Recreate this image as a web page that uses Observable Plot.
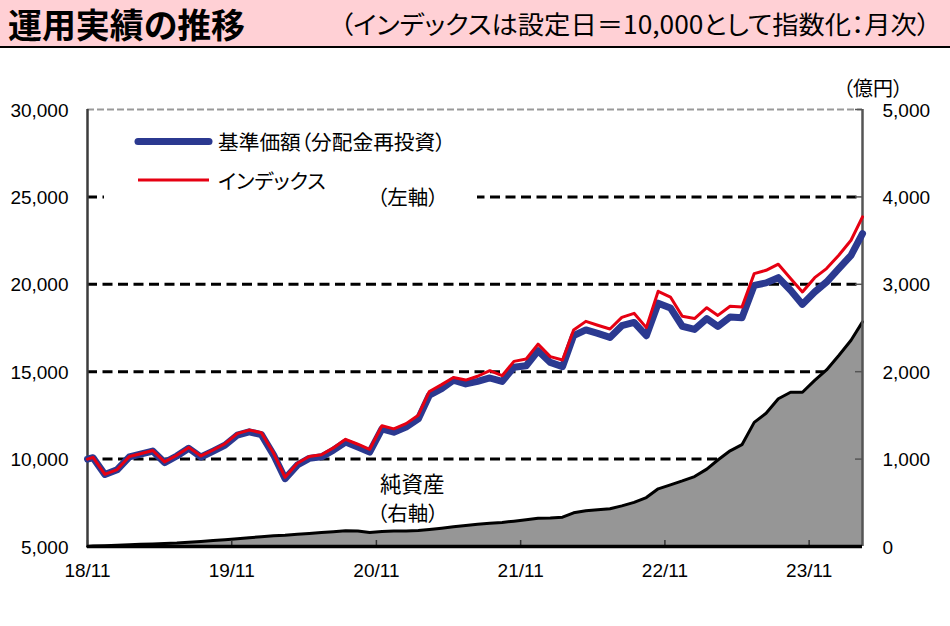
<!DOCTYPE html>
<html lang="ja"><head><meta charset="utf-8">
<script src="https://cdn.jsdelivr.net/npm/d3@7"></script>
<script src="https://cdn.jsdelivr.net/npm/@observablehq/plot@0.6"></script>
<style>
html,body{margin:0;padding:0;background:#fff;}
#wrap{position:relative;width:950px;height:626px;overflow:hidden;background:#fff;}
#chart{position:absolute;left:0;top:48px;}
#overlay{position:absolute;left:0;top:0;}
.jp{font-family:"Noto Sans CJK JP","Noto Sans",sans-serif;font-feature-settings:"palt";}
</style></head><body>
<div id="wrap"><div id="chart"></div><svg id="overlay" width="950" height="626"></svg></div>
<script>
// ---- data ----
const setupNav = 10000, setupIndex = 10000, setupAssets = 0;   // 設定日
const firstMonth = "2018-11", lastMonth = "2024-03";
const navValues = [
  10080, 9120, 9390, 10130, 10280, 10460, 9800, 10180, 10620, 10120,
  10460, 10800, 11370, 11560, 11400, 10230, 8880, 9660, 10040, 10130,
  10510, 10980, 10690, 10400, 11730, 11540, 11830, 12300, 13650, 14030,
  14520, 14300, 14450, 14640, 14440, 15250, 15340, 16200, 15530, 15290,
  17060, 17390, 17190, 16960, 17630, 17820, 17060, 18920, 18650, 17600,
  17420, 18040, 17590, 18130, 18090, 19940, 20080, 20380, 19660, 18850,
  19560, 20130, 20900, 21660, 22900
];
const indexValues = [
  10100, 9130, 9400, 10150, 10310, 10490, 9840, 10220, 10670, 10180,
  10520, 10880, 11460, 11660, 11510, 10330, 8960, 9760, 10150, 10250,
  10640, 11130, 10850, 10560, 11910, 11730, 12030, 12510, 13870, 14260,
  14670, 14520, 14740, 15060, 14770, 15590, 15730, 16580, 15860, 15670,
  17390, 17880, 17660, 17440, 18110, 18340, 17520, 19600, 19270, 18170,
  18040, 18660, 18220, 18740, 18700, 20610, 20800, 21150, 20330, 19560,
  20380, 20900, 21660, 22520, 23860
];
const assetValues = [ // 億円
  5, 10, 15, 20, 25, 30, 35, 40, 48, 58,
  68, 78, 88, 100, 112, 124, 130, 140, 150, 160,
  170, 180, 178, 160, 172, 176, 178, 182, 195, 210,
  225, 240, 255, 265, 275, 290, 305, 322, 325, 335,
  385, 408, 420, 432, 465, 505, 560, 660, 705, 750,
  800, 885, 990, 1095, 1165, 1420, 1525, 1690, 1765, 1765,
  1900, 2020, 2185, 2360, 2570
];
const leftTicks = [5000, 10000, 15000, 20000, 25000, 30000];
const gridTicks = [10000, 15000, 20000, 25000];
const rightTickLabels = [0, 1000, 2000, 3000, 4000, 5000];
const xTickLabels = ["18/11", "19/11", "20/11", "21/11", "22/11", "23/11"];

// ---- build ----
const parseMonth = d3.utcParse("%Y-%m");
const parseTick = d3.utcParse("%y/%m");
const xStart = parseMonth(firstMonth);
const xEnd = d3.utcDay.offset(parseMonth(lastMonth), 14);
const months = d3.utcMonths(xStart, d3.utcMonth.offset(parseMonth(lastMonth), 1));
const points = [{date: xStart, nav: setupNav, idx: setupIndex, assets: setupAssets}]
  .concat(months.map((m, i) => ({date: d3.utcDay.offset(m, 14), nav: navValues[i], idx: indexValues[i], assets: assetValues[i]})));
const toLeft = v => 5000 + v * 5;      // right axis 0–5,000 ↔ left axis 5,000–30,000
const rightTickPos = rightTickLabels.map(toLeft);
const xTickDates = xTickLabels.map(parseTick);

const W = 950, H = 578, mL = 87, mR = 88, mT = 61, mB = 80;
const frameW = W - mL - mR, frameH = H - mT - mB;

const chart = Plot.plot({
  width: W, height: H, marginLeft: mL, marginRight: mR, marginTop: mT, marginBottom: mB,
  style: {fontFamily: "'Liberation Sans', Arial, sans-serif", fontSize: "19px", color: "#000", background: "#fff", overflow: "visible"},
  x: {type: "utc", domain: [xStart, xEnd], label: null},
  y: {domain: [5000, 30000], label: null},
  marks: [
    Plot.ruleY(gridTicks, {stroke: "#000", strokeWidth: 3, strokeDasharray: "10,5.5"}),
    Plot.ruleY([30000], {stroke: "#9a9a9a", strokeWidth: 2, strokeDasharray: "7,3"}),
    Plot.areaY(points, {x: "date", y1: 5000, y2: d => toLeft(d.assets), fill: "#969696"}),
    Plot.lineY(points, {x: "date", y: d => toLeft(d.assets), stroke: "#000", strokeWidth: 3, strokeLinejoin: "round"}),
    Plot.ruleX(xTickDates, {stroke: "#333", strokeWidth: 1.5, insetTop: frameH - 6}),
    Plot.ruleY(rightTickPos, {stroke: "#555", strokeWidth: 1.5, insetLeft: frameW - 7}),
    Plot.ruleX([xStart], {stroke: "#3c3c3c", strokeWidth: 2.5}),
    Plot.ruleX([xEnd], {stroke: "#555", strokeWidth: 2.5}),
    Plot.ruleY([5000], {stroke: "#000", strokeWidth: 3.5}),
    Plot.lineY(points, {x: "date", y: "nav", stroke: "#2B3990", strokeWidth: 7, strokeLinejoin: "round"}),
    Plot.lineY(points, {x: "date", y: "idx", stroke: "#E60012", strokeWidth: 3, strokeLinejoin: "round"}),
    Plot.axisY({anchor: "left", ticks: leftTicks, tickSize: 0, tickPadding: 19, tickFormat: d3.format(","), label: null, dy: 1}),
    Plot.axisY({anchor: "right", ticks: rightTickPos, tickSize: 0, tickPadding: 20, label: null, dy: 1,
      tickFormat: d => d3.format(",")(rightTickLabels[rightTickPos.indexOf(d)])}),
    Plot.axisX({ticks: xTickDates, tickSize: 0, tickPadding: 17, tickFormat: d3.utcFormat("%y/%m"), label: null})
  ]
});
document.getElementById("chart").appendChild(chart);

// ---- title, legend and notes (overlay) ----
const ov = d3.select("#overlay");
ov.append("rect").attr("x", 0).attr("y", 0).attr("width", 950).attr("height", 46).attr("fill", "#FFD0D5");
ov.append("rect").attr("x", 0).attr("y", 46).attr("width", 950).attr("height", 2).attr("fill", "#000");
ov.append("text").attr("class", "jp").attr("x", 8).attr("y", 38).attr("font-size", 34).attr("font-weight", "bold")
  .attr("textLength", 237).attr("lengthAdjust", "spacingAndGlyphs").text("運用実績の推移");
ov.append("text").attr("class", "jp").attr("x", 340).attr("y", 34).attr("font-size", 25)
  .attr("textLength", 590).attr("lengthAdjust", "spacingAndGlyphs").text("（インデックスは設定日＝10,000として指数化：月次）");
ov.append("text").attr("class", "jp").attr("x", 843).attr("y", 87).attr("font-size", 20).attr("dominant-baseline", "central").text("（億円）");

// legend
ov.append("rect").attr("x", 104).attr("y", 113).attr("width", 373).attr("height", 90).attr("fill", "#fff");
ov.append("line").attr("x1", 138).attr("x2", 209).attr("y1", 141.5).attr("y2", 141.5)
  .attr("stroke", "#2B3990").attr("stroke-width", 7).attr("stroke-linecap", "round");
ov.append("line").attr("x1", 138).attr("x2", 209).attr("y1", 180).attr("y2", 180)
  .attr("stroke", "#E60012").attr("stroke-width", 3);
const notes = [
  {t: "基準価額（分配金再投資）", x: 218, y: 141, s: 20.7},
  {t: "インデックス", x: 218, y: 180, s: 20.5},
  {t: "（左軸）", x: 377, y: 196, s: 20.5},
  {t: "純資産", x: 380, y: 482, s: 21.5},
  {t: "（右軸）", x: 377, y: 512, s: 20.5}
];
for (const n of notes) {
  ov.append("text").attr("class", "jp").attr("x", n.x).attr("y", n.y).attr("font-size", n.s)
    .attr("dominant-baseline", "central").attr("fill", "#000").text(n.t);
}
</script></body></html>
